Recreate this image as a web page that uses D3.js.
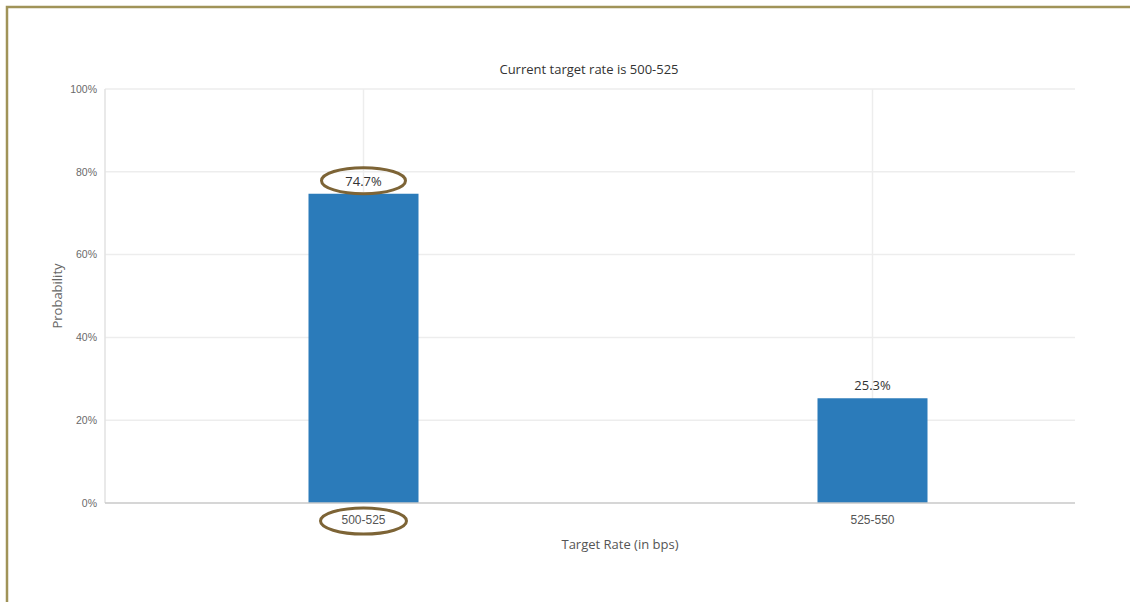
<!DOCTYPE html>
<html>
<head>
<meta charset="utf-8">
<script src="https://cdn.jsdelivr.net/npm/d3@7"></script>
<style>
  html, body { margin: 0; padding: 0; background: #fff; }
  svg { display: block; font-family: "Open Sans", "Noto Sans", sans-serif; }
</style>
</head>
<body>
<svg id="chart" width="1130" height="602"></svg>
<script>
// Target-rate probabilities
const categories = ["500-525", "525-550"];
const probabilities = [74.7, 25.3];
const yTicks = [0, 20, 40, 60, 80, 100];
const chartTitle = "Current target rate is 500-525";
const xTitle = "Target Rate (in bps)";
const yTitle = "Probability";
const highlighted = "500-525";

const svg = d3.select("#chart");

// Frame around the panel
svg.append("path")
  .attr("d", "M7,602 V7 H1130")
  .attr("fill", "none")
  .attr("stroke", "#a09358")
  .attr("stroke-width", 2.5);

const plot = { left: 105, right: 1075, top: 89, bottom: 503 };

const x = d3.scaleBand()
  .domain(categories)
  .range([plot.left + 4, plot.left + 1022])
  .paddingInner(0)
  .paddingOuter(0);

const y = d3.scaleLinear().domain([0, 100]).range([plot.bottom, plot.top]);

// Horizontal gridlines
svg.append("g")
  .selectAll("line")
  .data(yTicks.filter(d => d > 0))
  .join("line")
  .attr("x1", plot.left).attr("x2", plot.right)
  .attr("y1", d => y(d)).attr("y2", d => y(d))
  .attr("stroke", "#ededed").attr("stroke-width", 1.5);

// Vertical gridlines at category centres
svg.append("g")
  .selectAll("line")
  .data(categories)
  .join("line")
  .attr("x1", d => x(d) + x.bandwidth() / 2)
  .attr("x2", d => x(d) + x.bandwidth() / 2)
  .attr("y1", plot.top).attr("y2", plot.bottom)
  .attr("stroke", "#ededed").attr("stroke-width", 1.5);

// Y axis line
svg.append("line")
  .attr("x1", plot.left).attr("x2", plot.left)
  .attr("y1", plot.top).attr("y2", plot.bottom)
  .attr("stroke", "#e2e2e2").attr("stroke-width", 1.5);

// Y axis tick labels
const yAxis = d3.axisLeft(y).tickValues(yTicks).tickFormat(d => d + "%").tickSize(0).tickPadding(8);
const yg = svg.append("g").attr("transform", `translate(${plot.left},0)`).call(yAxis);
yg.select(".domain").remove();
yg.selectAll("text").attr("fill", "#6a6a6a").style("font-size", "10.5px");

// Bars
const barWidth = 110;
svg.append("g")
  .selectAll("rect")
  .data(categories)
  .join("rect")
  .attr("x", d => x(d) + x.bandwidth() / 2 - barWidth / 2)
  .attr("y", (d, i) => y(probabilities[i]))
  .attr("width", barWidth)
  .attr("height", (d, i) => y(0) - y(probabilities[i]))
  .attr("fill", "#2b7bba");

// X axis line
svg.append("line")
  .attr("x1", plot.left).attr("x2", plot.right)
  .attr("y1", plot.bottom).attr("y2", plot.bottom)
  .attr("stroke", "#c8c8c8").attr("stroke-width", 1.5);

// X axis tick labels
const xAxis = d3.axisBottom(x).tickSize(0).tickPadding(12);
const xg = svg.append("g").attr("transform", `translate(0,${plot.bottom})`).call(xAxis);
xg.select(".domain").remove();
xg.selectAll("text").attr("fill", "#555").style("font-size", "12px");

// Value labels
svg.append("g")
  .selectAll("text")
  .data(categories)
  .join("text")
  .attr("x", d => x(d) + x.bandwidth() / 2)
  .attr("y", (d, i) => y(probabilities[i]) - 8)
  .attr("text-anchor", "middle")
  .attr("fill", "#333")
  .style("font-size", "13px")
  .text((d, i) => probabilities[i].toFixed(1) + "%");

// Titles
svg.append("text")
  .attr("x", 589).attr("y", 74)
  .attr("text-anchor", "middle")
  .attr("fill", "#333")
  .style("font-size", "13px")
  .text(chartTitle);

svg.append("text")
  .attr("x", 620).attr("y", 549)
  .attr("text-anchor", "middle")
  .attr("fill", "#555")
  .style("font-size", "13px")
  .text(xTitle);

svg.append("text")
  .attr("transform", `translate(62,${(plot.top + plot.bottom) / 2}) rotate(-90)`)
  .attr("text-anchor", "middle")
  .attr("fill", "#666")
  .style("font-size", "13px")
  .text(yTitle);

// Highlight rings around the leading category's value and label
const hi = categories.indexOf(highlighted);
const cx = x(highlighted) + x.bandwidth() / 2;
const rings = [
  { cy: y(probabilities[hi]) - 13, rx: 42, ry: 13 },
  { cy: plot.bottom + 18, rx: 43, ry: 13 }
];
svg.append("g")
  .selectAll("ellipse")
  .data(rings)
  .join("ellipse")
  .attr("cx", cx)
  .attr("cy", d => d.cy)
  .attr("rx", d => d.rx)
  .attr("ry", d => d.ry)
  .attr("fill", "none")
  .attr("stroke", "#7d6436")
  .attr("stroke-width", 3);
</script>
</body>
</html>
